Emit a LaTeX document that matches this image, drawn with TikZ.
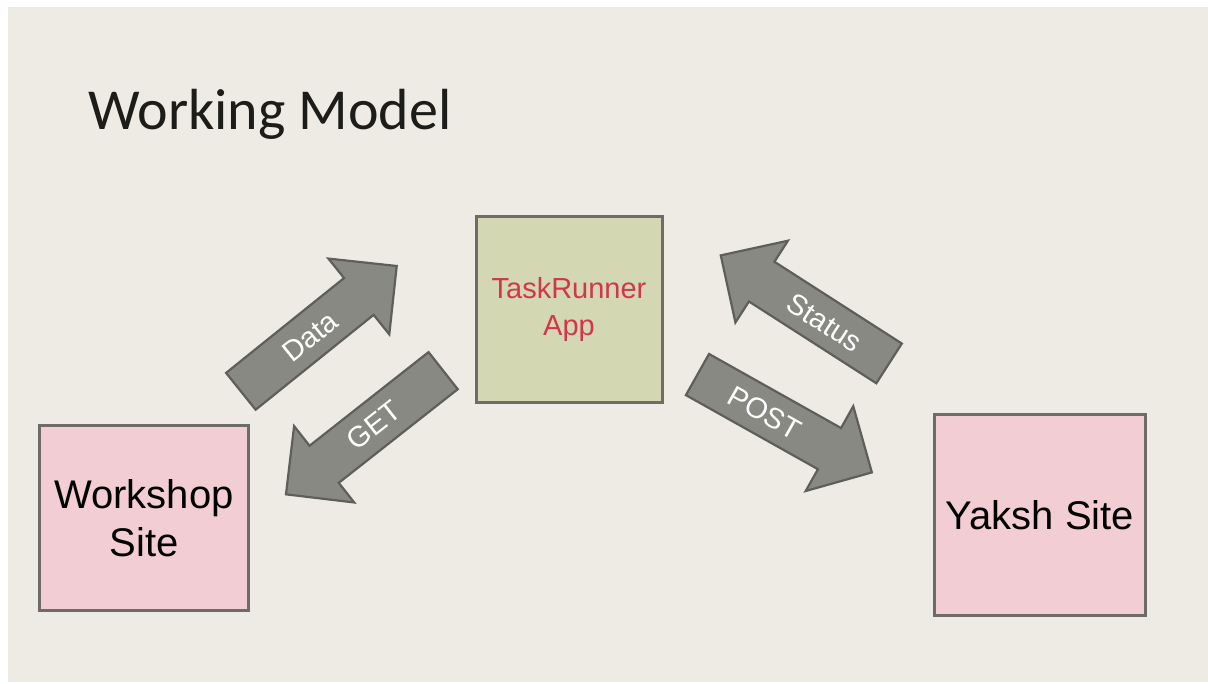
\documentclass[tikz,border=0pt]{standalone}
\usepackage{fontspec}
\setmainfont{Liberation Sans}
\newfontfamily\titlefont{Carlito}
\usetikzlibrary{shapes.arrows}

\definecolor{slidebg}{RGB}{238,235,228}
\definecolor{arrowfill}{RGB}{137,137,131}
\definecolor{arrowedge}{RGB}{95,95,90}
\definecolor{boxedge}{RGB}{110,108,103}
\definecolor{appfill}{RGB}{211,215,178}
\definecolor{sitefill}{RGB}{242,205,212}
\definecolor{apptext}{RGB}{208,56,74}
\definecolor{titleink}{RGB}{28,28,24}

\tikzset{
  sitebox/.style={draw=boxedge, line width=3pt, fill=sitefill, inner sep=0pt,
    align=center, text=black, font=\fontsize{40}{48}\selectfont},
  appbox/.style={draw=boxedge, line width=3pt, fill=appfill, inner sep=0pt,
    align=center, text=apptext, font=\fontsize{29}{37}\selectfont},
  flowarrow/.style={single arrow, draw=arrowedge, fill=arrowfill, line width=2.2pt,
    minimum height=200pt, single arrow head extend=25pt,
    single arrow tip angle=90, inner xsep=2pt, inner ysep=12pt,
    text height=21pt, text depth=0pt, text=white,
    font=\fontsize{29}{32}\selectfont},
}

\begin{document}
\begin{tikzpicture}[x=1pt, y=-1pt]
  % slide area
  \useasboundingbox (0,0) rectangle (1208,684);
  \fill[white] (0,0) rectangle (1208,684);
  \fill[slidebg] (8,7) rectangle (1208,682);

  % title
  \node[anchor=base west, inner sep=0pt, text=titleink,
        font=\titlefont\fontsize{58}{64}\selectfont] (title) at (88,130) {Working Model};

  % boxes
  \node[appbox, minimum width=186pt, minimum height=186pt] (app) at (569,309.5)
    {TaskRunner\\App};
  \node[sitebox, minimum width=209pt, minimum height=185pt] (workshop) at (144,518)
    {Workshop\\Site};
  \node[sitebox, minimum width=211pt, minimum height=201pt] (yaksh) at (1040,515)
    {Yaksh Site};

  % block arrows between the sites and the app
  \node[flowarrow, rotate=38.8, anchor=tail] (data) at (240,392) {Data};
  \node[flowarrow, rotate=38.2, shape border rotate=180, anchor=tail] (get) at (444,370) {GET};
  \node[flowarrow, rotate=-32.7, shape border rotate=180, anchor=tail] (status) at (890,364)
    {\hspace*{24pt}Status};
  \node[flowarrow, rotate=-29.3, anchor=tail] (post) at (696.5,374)
    {POST\hspace*{22pt}};
\end{tikzpicture}
\end{document}
